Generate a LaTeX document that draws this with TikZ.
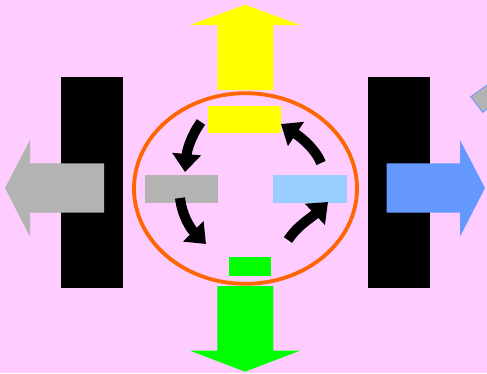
\documentclass[tikz,border=0pt]{standalone}
\usepackage{tikz}
\usetikzlibrary{arrows.meta}
\definecolor{bgpink}{RGB}{255,204,255}
\definecolor{panelgray}{RGB}{179,179,179}
\definecolor{lightblue}{RGB}{153,204,255}
\definecolor{flowblue}{RGB}{102,153,255}
\definecolor{ringorange}{RGB}{255,102,0}
\definecolor{pureyellow}{RGB}{255,255,0}
\definecolor{puregreen}{RGB}{0,255,0}
\tikzstyle{box}=[rectangle, draw=none, inner sep=0pt]
\tikzstyle{bar}=[box, fill=black, minimum width=62pt, minimum height=211pt]
\tikzstyle{swirl}=[line width=10pt, -{Triangle[length=18pt,width=28pt]}]

\begin{document}
\begin{tikzpicture}[x=1pt, y=-1pt]

    % page
    \useasboundingbox (0,0) rectangle (487,373);
    \fill[bgpink] (0,0) rectangle (487,373);
    \clip (0,0) rectangle (487,373);

    % bars
    \node [bar] (leftbar) at (92,182.5) {};
    \node [bar] (rightbar) at (399,182.5) {};

    % outgoing arrows
    \fill[pureyellow] (217.3,90) -- ++(0,-65) -- ++(-27.3,0) -- (245,4.7) -- (300,25) -- ++(-26.7,0) -- ++(0,65) -- cycle;
    \fill[puregreen] (217.3,286) -- ++(0,64.7) -- ++(-27.3,0) -- (245,371.7) -- (300,350.7) -- ++(-26.7,0) -- ++(0,-64.7) -- cycle;
    \fill[panelgray] (104,163.3) -- ++(-74,0) -- ++(0,-23.3) -- (5,188) -- (30,236.7) -- ++(0,-24) -- ++(74,0) -- cycle;
    \fill[flowblue] (386.7,163.3) -- ++(73.3,0) -- ++(0,-23.3) -- (485,188) -- (460,236.7) -- ++(0,-24) -- ++(-73.3,0) -- cycle;

    % corner piece
    \filldraw[fill=panelgray, draw=flowblue, line width=0.8pt] (470.7,96.7) -- (482.7,112.3) -- (506,95.6) -- (494,80) -- cycle;

    % ring
    \draw[ringorange, line width=3.8pt] (245.5,188.5) ellipse (111.5 and 95.3);

    % inner boxes
    \node [box, fill=pureyellow, minimum width=73pt, minimum height=27pt] (topbox) at (244.5,119.5) {};
    \node [box, fill=puregreen, minimum width=42pt, minimum height=19pt] (bottombox) at (250,266.5) {};
    \node [box, fill=panelgray, minimum width=73pt, minimum height=28pt] (leftbox) at (181.5,189) {};
    \node [box, fill=lightblue, minimum width=74pt, minimum height=28pt] (rightbox) at (310,189) {};

    % cycle
    \draw[swirl] (201,122) .. controls (191,136) and (187,150) .. (185,172);
    \draw[swirl] (180,198) .. controls (182,215) and (190,228) .. (206,244);
    \draw[swirl] (288,240) .. controls (298,225) and (311,218) .. (328,202);
    \draw[swirl] (321,163) .. controls (317,152) and (305,140) .. (281,124);

\end{tikzpicture}
\end{document}
